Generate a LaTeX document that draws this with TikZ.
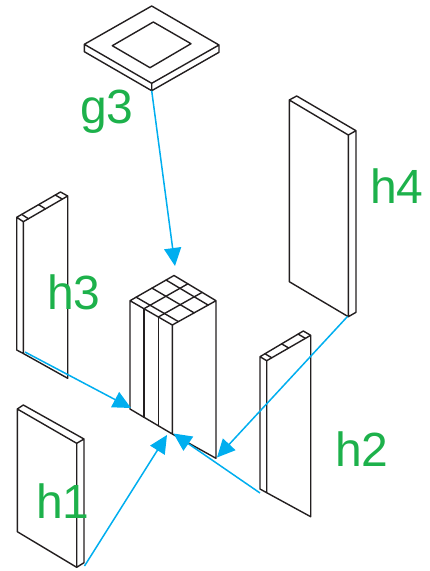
\documentclass[tikz,border=0pt]{standalone}
\usepackage{fontspec}
\setmainfont{Liberation Sans}
\usetikzlibrary{arrows.meta,calc}
\definecolor{lbl}{HTML}{1DB14B}
\definecolor{arr}{HTML}{00AEEF}
\definecolor{ink}{HTML}{231F20}
\tikzset{
  x=1pt,y=-1pt,
  edge/.style={draw=ink,line width=1.4pt,line join=round,line cap=round},
  flow/.style={draw=arr,line width=1.5pt,-{Triangle[length=18pt,width=17pt]},shorten >=0pt},
  tag/.style={text=lbl,font=\fontsize{48}{48}\selectfont,anchor=base west,inner sep=0pt,outer sep=0pt},
}
\begin{document}
\begin{tikzpicture}
\useasboundingbox (0,0) rectangle (429,571);
% plate g3
\coordinate (gT) at (151.7,6);\coordinate (gL) at (84.3,44.3);\coordinate (gR) at (219,45);\coordinate (gF) at (151.7,83.3);
\coordinate (gLb) at (84.3,51.7);\coordinate (gRb) at (219,52.3);\coordinate (gFb) at (151.7,90.7);
\draw[edge] (gT)--(gR)--(gF)--(gL)--cycle (gL)--(gLb)--(gFb)--(gRb)--(gR) (gF)--(gFb);
\draw[edge] (153.3,22)--(191,43.7)--(150,67.7)--(112.3,45.7)--cycle;
% column
\coordinate (cT) at (174,275.5);\coordinate (cL) at (130,300.7);\coordinate (cR) at (216,300.7);\coordinate (cF) at (172.3,325);
\coordinate (cLb) at (130,409);\coordinate (cFb) at (172.3,434);\coordinate (cRb) at (216,458.3);
\draw[edge] (cT)--(cR)--(cF)--(cL)--cycle (cL)--(cLb)--(cFb)--(cRb)--(cR) (cF)--(cFb);
\foreach \f in {0.14,0.5,0.82}{\draw[edge] ($(cL)!\f!(cT)$)--($(cF)!\f!(cR)$);}
\foreach \f in {0.33,0.67}{
  \draw[edge] ($(cL)!\f!(cF)$)--($(cT)!\f!(cR)$);
  \draw[edge] ($(cL)!\f!(cF)$)--($(cLb)!\f!(cFb)$);
}
% h3
\coordinate (aL) at (16.7,217.3);\coordinate (aF) at (23.3,221.7);\coordinate (aB) at (60.5,192);\coordinate (aR) at (67.7,196);
\coordinate (aLb) at (16.7,350);\coordinate (aFb) at (23.3,353.5);\coordinate (aRb) at (67.7,378.3);
\draw[edge] (aL)--(aF)--(aR)--(aB)--cycle (aL)--(aLb)--(aFb)--(aRb)--(aR) (aF)--(aFb);
\foreach \f in {0.115,0.5,0.88}{\draw[edge] ($(aL)!\f!(aB)$)--($(aF)!\f!(aR)$);}
% h2
\coordinate (bL) at (260,356.7);\coordinate (bF) at (266.7,360.7);\coordinate (bB) at (303.3,331);\coordinate (bR) at (310.7,335.3);
\coordinate (bLb) at (260,489);\coordinate (bFb) at (266.7,492.7);\coordinate (bRb) at (310.7,516.7);
\draw[edge] (bL)--(bF)--(bR)--(bB)--cycle (bL)--(bLb)--(bFb)--(bRb)--(bR) (bF)--(bFb);
\foreach \f in {0.115,0.5,0.88}{\draw[edge] ($(bL)!\f!(bB)$)--($(bF)!\f!(bR)$);}
% h1
\coordinate (dL) at (17.3,409);\coordinate (dB) at (23.3,405);\coordinate (dR) at (84,439);\coordinate (dF) at (76.7,443.3);
\coordinate (dLb) at (17.3,531.7);\coordinate (dFb) at (76.7,567.3);\coordinate (dRb) at (84,562.7);
\draw[edge] (dL)--(dB)--(dR)--(dF)--cycle (dL)--(dLb)--(dFb)--(dRb)--(dR) (dF)--(dFb);
% h4
\coordinate (eL) at (289.3,100);\coordinate (eB) at (296.7,96);\coordinate (eR) at (356,130.7);\coordinate (eF) at (348.3,135);
\coordinate (eLb) at (289.3,281.7);\coordinate (eFb) at (348.3,316.7);\coordinate (eRb) at (356,312.3);
\draw[edge] (eL)--(eB)--(eR)--(eF)--cycle (eL)--(eLb)--(eFb)--(eRb)--(eR) (eF)--(eFb);
% arrows
\coordinate (gTip) at (175,266);
\coordinate (aS) at (25,352);\coordinate (aTip) at (131,408);
\coordinate (dS) at (84.5,566);\coordinate (dTip) at (167,435);
\coordinate (bS) at (260,493);\coordinate (bTip) at (173.5,433.5);
\coordinate (eS) at (347.5,316.5);\coordinate (eTip) at (217,457.5);
\draw[flow] (gFb)--(gTip);
\draw[flow] (aS)--(aTip);
\draw[flow] (dS)--(dTip);
\draw[flow] (bS)--(bTip);
\draw[flow] (eS)--(eTip);
% labels
\node[tag] (g3) at (80,123) {g3};
\node[tag] (h4) at (370,203) {h4};
\node[tag] (h3) at (47,309) {h3};
\node[tag] (h2) at (335,466) {h2};
\node[tag] (h1) at (36,518) {h1};
\end{tikzpicture}
\end{document}
